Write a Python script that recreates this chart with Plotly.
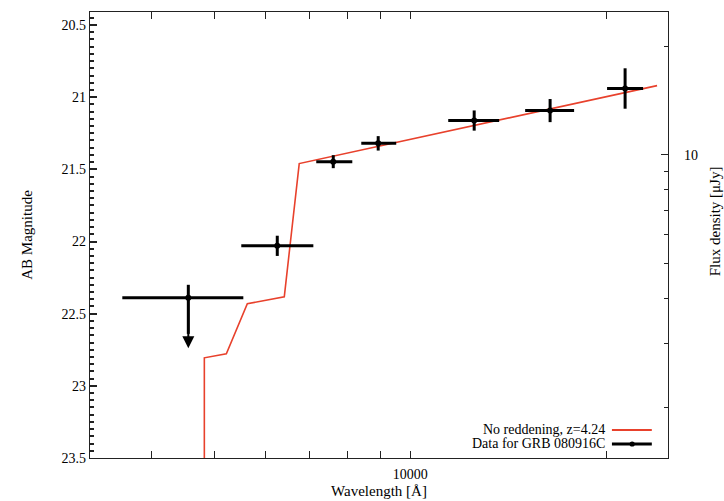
import math
import plotly.graph_objects as go

# ---- data ----
# photometric points (wavelength in Angstrom, AB magnitude)
obs_wave = [4560, 6247, 7616, 8929, 12541, 16406, 21393]
obs_wave_lo = [3610, 5500, 7171, 8410, 11440, 15020, 20070]
obs_wave_hi = [5540, 7098, 8147, 9517, 13700, 17860, 22800]
obs_mag = [22.39, 22.03, 21.447, 21.32, 21.162, 21.093, 20.94]
obs_err_up = [0.09, 0.07, 0.045, 0.05, 0.07, 0.08, 0.14]   # toward brighter
obs_err_dn = [0.0, 0.07, 0.045, 0.05, 0.07, 0.08, 0.14]    # toward fainter
upper_limit_tip = 22.74  # arrow tip for first point (upper limit)

# model (no reddening, z=4.24)
model_wave = [4826, 4826, 5217, 5619, 6404, 6752, 23955]
model_mag = [24.5, 22.806, 22.778, 22.431, 22.383, 21.46, 20.92]

x_range = [3220, 24900]
mag_range = [23.5, 20.41]
mag_major = [20.5, 21, 21.5, 22, 22.5, 23, 23.5]
mag_minor = [round(20.45 + 0.05 * i, 2) for i in range(63)]
flux_major = [10]
flux_minor = [2, 3, 4, 5, 6, 7, 8, 9, 20, 30]
wave_major = [10000]
wave_minor = [3000, 4000, 5000, 6000, 7000, 8000, 9000, 20000]


def mag_to_ujy(m):
    return 10 ** ((23.9 - m) / 2.5)


RED = "#e8412c"
FONT = "Liberation Serif"
TICK_SIZE = 14
TEXT_SIZE = 15
LEG_SIZE = 14

fig = go.Figure()

fig.add_trace(go.Scatter(
    x=model_wave, y=model_mag, mode="lines",
    line=dict(color=RED, width=1.6), hoverinfo="skip", showlegend=False,
))

fig.add_trace(go.Scatter(
    x=obs_wave, y=obs_mag, mode="markers",
    marker=dict(color="black", size=6),
    error_x=dict(type="data", symmetric=False,
                 array=[h - w for h, w in zip(obs_wave_hi, obs_wave)],
                 arrayminus=[w - l for l, w in zip(obs_wave_lo, obs_wave)],
                 color="black", thickness=3, width=0),
    error_y=dict(type="data", symmetric=False,
                 array=[upper_limit_tip - 0.1 - obs_mag[0]] + obs_err_dn[1:],
                 arrayminus=obs_err_up,
                 color="black", thickness=3, width=0),
    showlegend=False, hoverinfo="skip",
))

# invisible trace on the flux axis
fig.add_trace(go.Scatter(
    x=obs_wave, y=[mag_to_ujy(m) for m in obs_mag], yaxis="y2",
    mode="markers", marker=dict(opacity=0), showlegend=False, hoverinfo="skip",
))

# upper-limit arrow
fig.add_annotation(
    x=math.log10(obs_wave[0]), y=upper_limit_tip,
    ax=math.log10(obs_wave[0]), ay=obs_mag[0],
    xref="x", yref="y", axref="x", ayref="y",
    showarrow=True, arrowhead=2, arrowsize=1.2, arrowwidth=2,
    arrowcolor="black", text="",
)

# legend (manual, gnuplot-like)
leg = [("No reddening, z=4.24", RED, 0.0628, False),
       ("Data for GRB 080916C", "black", 0.0314, True)]
for text, col, yy, dot in leg:
    fig.add_annotation(x=0.8875, y=yy, xref="paper", yref="paper",
                       text=text, showarrow=False, xanchor="right",
                       yanchor="middle", xshift=3, borderpad=0,
                       font=dict(family=FONT, size=LEG_SIZE, color="black"))
    fig.add_shape(type="line", xref="paper", yref="paper",
                  x0=0.903, x1=0.972, y0=yy, y1=yy,
                  line=dict(color=col, width=2 if not dot else 3))
    if dot:
        fig.add_shape(type="circle", xref="paper", yref="paper",
                      x0=0.938 - 0.0045, x1=0.938 + 0.0045,
                      y0=yy - 0.0058, y1=yy + 0.0058,
                      fillcolor="black", line=dict(color="black", width=0))

# right-axis title (placed like the original, slightly above centre)
fig.add_annotation(x=1.0815, y=0.531, xref="paper", yref="paper",
                   text="Flux density [μJy]", textangle=-90, showarrow=False,
                   xanchor="center", yanchor="middle",
                   font=dict(family=FONT, size=TEXT_SIZE, color="black"))

fig.update_layout(
    width=724, height=501,
    margin=dict(l=90, r=56, t=12, b=43, autoexpand=False),
    paper_bgcolor="white", plot_bgcolor="white",
    font=dict(family=FONT, size=TICK_SIZE, color="black"),
    showlegend=False,
    xaxis=dict(
        type="log", range=[math.log10(v) for v in x_range],
        tickmode="array", tickvals=wave_major, ticktext=[str(v) for v in wave_major],
        ticks="inside", ticklen=7, tickcolor="#222", tickwidth=1.2,
        minor=dict(tickmode="array", tickvals=wave_minor, ticks="inside",
                   ticklen=4, tickcolor="#222", tickwidth=1.2),
        showline=True, linecolor="#222", linewidth=1.2, mirror="allticks",
        showgrid=False, zeroline=False, automargin=False,
        tickfont=dict(family=FONT, size=TICK_SIZE),
        title=dict(text="Wavelength [Å]", standoff=4,
                   font=dict(family=FONT, size=TEXT_SIZE)),
        ticklabelstandoff=3,
    ),
    yaxis=dict(
        range=mag_range, tickmode="array", tickvals=mag_major,
        ticktext=[f"{v:g}" for v in mag_major],
        ticks="inside", ticklen=7, tickcolor="#222", tickwidth=1.5,
        minor=dict(tickmode="array", tickvals=mag_minor, ticks="inside",
                   ticklen=4, tickcolor="#222", tickwidth=1.5),
        showline=True, linecolor="#222", linewidth=1.2, mirror=True,
        showgrid=False, zeroline=False, automargin=False,
        tickfont=dict(family=FONT, size=TICK_SIZE),
        title=dict(text="AB Magnitude", standoff=25,
                   font=dict(family=FONT, size=TEXT_SIZE)),
    ),
    yaxis2=dict(
        type="log", overlaying="y", side="right",
        range=[math.log10(mag_to_ujy(m)) for m in mag_range],
        tickmode="array", tickvals=flux_major, ticktext=[str(v) for v in flux_major],
        ticks="inside", ticklen=7, tickcolor="#222", tickwidth=1.2,
        minor=dict(tickmode="array", tickvals=flux_minor, ticks="inside",
                   ticklen=4, tickcolor="#222", tickwidth=1.2),
        showline=True, linecolor="#222", linewidth=1.2,
        showgrid=False, zeroline=False, automargin=False,
        tickfont=dict(family=FONT, size=TICK_SIZE),
        ticklabelstandoff=12,
    ),
)

fig.write_html("out.html")
